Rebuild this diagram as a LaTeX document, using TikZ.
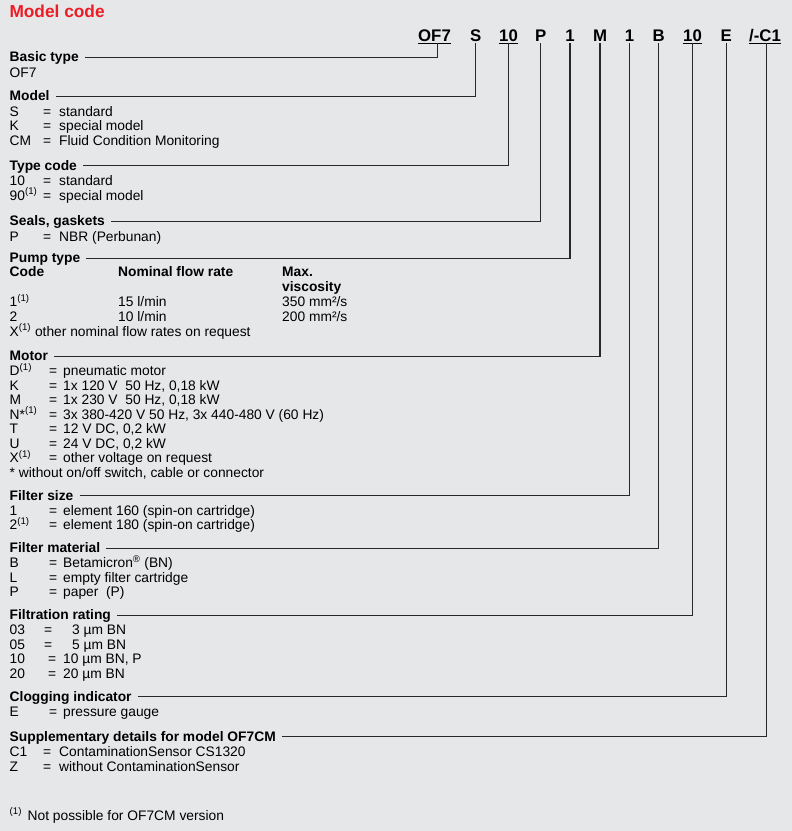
\documentclass[tikz,border=0pt]{standalone}
\usepackage{fontspec}
\setmainfont{Liberation Sans}
\definecolor{bg}{RGB}{230,231,233}
\definecolor{titlered}{RGB}{237,28,36}
\definecolor{ln}{RGB}{40,40,40}
\newcommand\mcrow[6]{%
  \node[txt] (#1k) at (9.5,#2) {#3};
  \node[txt] (#1e) at (#4,#2) {=};
  \node[txt] (#1d) at (#5,#2) {#6};}
\begin{document}
\begin{tikzpicture}[x=1pt,y=-1pt,
  txt/.style={anchor=base west,inner sep=0pt,font=\fontsize{13.8}{14.6}\selectfont},
  btxt/.style={txt,font=\fontsize{13.8}{14.6}\selectfont\bfseries},
  hd/.style={anchor=base west,inner sep=0pt,font=\fontsize{13.8}{14.6}\selectfont\bfseries,text height=8.4pt,text depth=0pt},
  cd/.style={anchor=base,inner sep=0pt,font=\fontsize{16.8}{18}\selectfont\bfseries,text depth=0pt},
  conn/.style={draw=ln,line width=1.2pt},
  ul/.style={draw=black,line width=1.3pt}]
\useasboundingbox[fill=bg] (0,0) rectangle (792,831);

% title
\node[anchor=base west,inner sep=0pt,font=\fontsize{17.3}{20}\selectfont\bfseries,text=titlered] (title) at (9.3,17.3) {Model code};

% code letters
\node[cd] (c1) at (434.5,41) {OF7};
\node[cd] (c2) at (475.7,41) {S};
\node[cd] (c3) at (508.5,41) {10};
\node[cd] (c4) at (540.7,41) {P};
\node[cd] (c5) at (570,41) {1};
\node[cd] (c6) at (600,41) {M};
\node[cd] (c7) at (629.5,41) {1};
\node[cd] (c8) at (658.8,41) {B};
\node[cd] (c9) at (692.5,41) {10};
\node[cd] (c10) at (726.3,41) {E};
\node[cd] (c11) at (765,41) {/-C1};
\foreach \c in {c1,c3,c9,c11}
  \draw[ul] ([yshift=-2.2pt]\c.south west) -- ([yshift=-2.2pt]\c.south east);

% headings
\node[hd] (h1) at (9.5,61.5) {Basic type};
\node[hd] (h2) at (9.5,100.5) {Model};
\node[hd] (h3) at (9.5,170) {Type code};
\node[hd] (h4) at (9.5,225.7) {Seals, gaskets};
\node[hd] (h5) at (9.5,262.5) {Pump type};
\node[hd] (h6) at (9.5,360.5) {Motor};
\node[hd] (h7) at (9.5,500) {Filter size};
\node[hd] (h8) at (9.5,552.5) {Filter material};
\node[hd] (h9) at (9.5,619.5) {Filtration rating};
\node[hd] (h10) at (9.5,701) {Clogging indicator};
\node[hd] (h11) at (9.5,741) {Supplementary details for model OF7CM};

% connectors
\draw[conn] ([xshift=6pt]h1.east) -| ([xshift=3.2pt,yshift=-2.2pt]c1.south);
\draw[conn] ([xshift=6pt]h2.east) -| ([yshift=-2.2pt]c2.south);
\draw[conn] ([xshift=6pt]h3.east) -| ([yshift=-2.2pt]c3.south);
\draw[conn] ([xshift=6pt]h4.east) -| ([yshift=-2.2pt]c4.south);
\draw[conn] ([xshift=6pt]h5.east) -| ([yshift=-2.2pt]c5.south);
\draw[conn] ([xshift=6pt]h6.east) -| ([yshift=-2.2pt]c6.south);
\draw[conn] ([xshift=6pt]h7.east) -| ([yshift=-2.2pt]c7.south);
\draw[conn] ([xshift=6pt]h8.east) -| ([yshift=-2.2pt]c8.south);
\draw[conn] ([xshift=6pt]h9.east) -| ([yshift=-2.2pt]c9.south);
\draw[conn] ([xshift=6pt]h10.east) -| ([yshift=-2.2pt]c10.south);
\draw[conn] ([xshift=6pt]h11.east) -| ([xshift=1.2pt,yshift=-2.2pt]c11.south);

% Basic type
\node[txt] (bt) at (9.5,77) {OF7};

% Model
\mcrow{ms}{116}{S}{43}{59}{standard}
\mcrow{mk}{130.7}{K}{43}{59}{special model}
\mcrow{mc}{145.5}{CM}{43}{59}{Fluid Condition Monitoring}

% Type code
\mcrow{ta}{185.5}{10}{43}{59}{standard}
\mcrow{tb}{200.2}{90\textsuperscript{(1)}}{43}{59}{special model}

% Seals
\mcrow{sp}{241}{P}{43}{59}{NBR (Perbunan)}

% Pump type
\node[btxt] (pc) at (9.5,276.5) {Code};
\node[btxt] (pn) at (118,276.5) {Nominal flow rate};
\node[btxt] (pm) at (282,276.5) {Max.};
\node[btxt] (pv) at (282,291) {viscosity};
\node[txt] (p1k) at (9.5,306.5) {1\textsuperscript{(1)}};
\node[txt] (p1f) at (118,306.5) {15 l/min};
\node[txt] (p1v) at (282,306.5) {350 mm²/s};
\node[txt] (p2k) at (9.5,321) {2};
\node[txt] (p2f) at (118,321) {10 l/min};
\node[txt] (p2v) at (282,321) {200 mm²/s};
\node[txt] (px) at (9.5,336) {X\textsuperscript{(1)} other nominal flow rates on request};

% Motor
\mcrow{md}{375.5}{D\textsuperscript{(1)}}{49}{63}{pneumatic motor}
\mcrow{mK}{390}{K}{49}{63}{1x 120 V\ \ 50 Hz, 0,18 kW}
\mcrow{mm}{404.5}{M}{49}{63}{1x 230 V\ \ 50 Hz, 0,18 kW}
\mcrow{mn}{419}{N*\textsuperscript{(1)}}{49}{63}{3x 380-420 V 50 Hz, 3x 440-480 V (60 Hz)}
\mcrow{mt}{433.5}{T}{49}{63}{12 V DC, 0,2 kW}
\mcrow{mu}{448}{U}{49}{63}{24 V DC, 0,2 kW}
\mcrow{mx}{462.5}{X\textsuperscript{(1)}}{49}{63}{other voltage on request}
\node[txt] (mnote) at (9.5,477) {* without on/off switch, cable or connector};

% Filter size
\mcrow{fa}{515}{1}{49}{63}{element 160 (spin-on cartridge)}
\mcrow{fb}{529.5}{2\textsuperscript{(1)}}{49}{63}{element 180 (spin-on cartridge)}

% Filter material
\mcrow{ga}{567.5}{B}{49}{63}{Betamicron\textsuperscript{®} (BN)}
\mcrow{gb}{582}{L}{49}{63}{empty filter cartridge}
\mcrow{gc}{596.5}{P}{49}{63}{paper\ \ (P)}

% Filtration rating
\mcrow{ra}{634.5}{03}{44}{72}{3 µm BN}
\mcrow{rb}{649}{05}{44}{72}{5 µm BN}
\mcrow{rc}{663.5}{10}{48}{63}{10 µm BN, P}
\mcrow{rd}{678}{20}{48}{63}{20 µm BN}

% Clogging indicator
\mcrow{ea}{716}{E}{49}{63}{pressure gauge}

% Supplementary
\mcrow{sa}{756.5}{C1}{43}{59}{ContaminationSensor CS1320}
\mcrow{sb}{771}{Z}{43}{59}{without ContaminationSensor}

% footnote
\node[txt] (fns) at (9.5,820) {\textsuperscript{(1)}};
\node[txt] (fnt) at (27.5,820) {Not possible for OF7CM version};
\end{tikzpicture}
\end{document}
